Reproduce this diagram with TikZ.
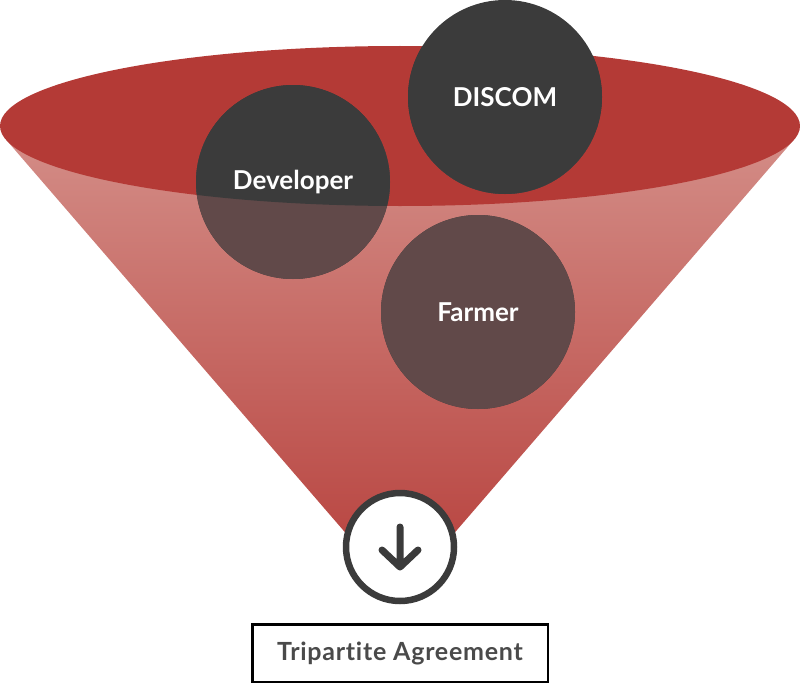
\documentclass[tikz,border=0pt]{standalone}
\usepackage{fontspec}
\setmainfont{Lato}[Ligatures=NoCommon]
\newfontfamily\boxfont{Lato}[Ligatures=NoCommon,LetterSpace=3]
\definecolor{funnelred}{HTML}{B43A36}
\definecolor{conetop}{HTML}{D38C86}
\definecolor{conebot}{HTML}{B63E3A}
\definecolor{party}{HTML}{3B3B3B}
\definecolor{partylow}{HTML}{614949}
\definecolor{boxtext}{HTML}{4A4A4A}
\tikzset{
  partylabel/.style={text=white,font=\bfseries\fontsize{26}{30}\selectfont},
  arrowline/.style={draw=party,line width=7pt,line cap=round,line join=round},
}
\begin{document}
\begin{tikzpicture}[x=1pt,y=-1pt]
            \def\r{97}
            \useasboundingbox (0,0) rectangle (800,685);
            \coordinate (dev) at (293,182);
            \coordinate (dis) at (505,97);
            \coordinate (far) at (478,312);
            % funnel
            \shade [top color=conetop,bottom color=conebot](6,139.6)--(400,596)--(794,139.6)--cycle;
            \fill [funnelred](400,126) ellipse [x radius=400,y radius=80];
            \foreach \c in {dev,dis,far} \fill [party](\c) circle (\r);
            \begin{scope}
                \clip (6,139.6)--(400,596)--(794,139.6)--cycle;
                \foreach \c in {dev,dis,far} \fill [partylow](\c) circle (\r);
            \end{scope}
            \begin{scope}
                \clip (400,126) ellipse [x radius=400,y radius=80];
                \foreach \c in {dev,dis,far} \fill [party](\c) circle (\r);
            \end{scope}
            \node [partylabel] (devlabel) at (dev) {Developer};
            \node [partylabel] (dislabel) at (dis) {DISCOM};
            \node [partylabel] (farlabel) at (far) {Farmer};
            % outlet
            \node [circle,draw=party,line width=6.5pt,fill=white,minimum size=108pt,inner sep=0pt] (down) at (400,547) {};
            \draw [arrowline](down.center) ++(0,-20) --++(0,40) ++(-18,-17) --++(18,17) --++(18,-17);
            \node [draw=black,line width=2.5pt,minimum width=295.5pt,minimum height=57.5pt,inner sep=0pt,text=boxtext,font=\boxfont\bfseries\fontsize{25}{28}\selectfont] (agree) at (400,653) {Tripartite Agreement};
\end{tikzpicture}
\end{document}
